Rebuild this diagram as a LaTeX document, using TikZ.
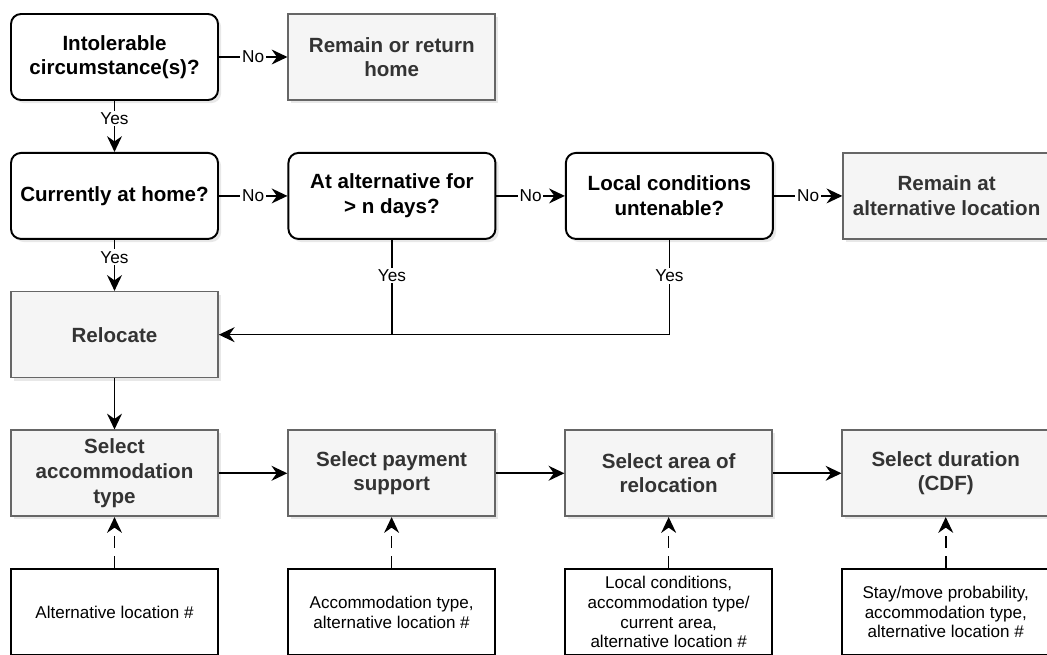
\documentclass[tikz,border=0pt]{standalone}
\usepackage{xcolor}
\usepackage{fontspec}
\setmainfont{Liberation Sans}
\usepackage{tikz}
\usetikzlibrary{positioning, arrows.meta, shadows}

\definecolor{boxgray}{HTML}{F5F5F5}
\definecolor{linegray}{HTML}{666666}
\definecolor{textgray}{HTML}{333333}

\begin{document}
\begin{tikzpicture}[
    question/.style={
        rectangle,
        rounded corners=0.2cm,
        draw,
        line width=1.1pt,
        fill=white,
        drop shadow={shadow xshift=1.8pt, shadow yshift=-1.8pt, opacity=0.18},
        minimum width=4.14cm,
        minimum height=1.72cm,
        align=center,
        font=\fontsize{11.7}{14}\selectfont\bfseries
    },
    outcome/.style={
        rectangle,
        draw=linegray,
        line width=0.9pt,
        fill=boxgray,
        text=textgray,
        drop shadow={shadow xshift=1.8pt, shadow yshift=-1.8pt, opacity=0.18},
        minimum width=4.14cm,
        minimum height=1.72cm,
        align=center,
        font=\fontsize{11.7}{14}\selectfont\bfseries
    },
    input/.style={
        rectangle,
        draw,
        line width=1.1pt,
        fill=white,
        minimum width=4.14cm,
        minimum height=1.72cm,
        align=center,
        font=\fontsize{9.7}{11.3}\selectfont
    },
    label/.style={
        fill=white,
        inner sep=1pt,
        font=\fontsize{9.8}{11}\selectfont
    },
    line/.style={
        line width=0.9pt
    },
    arrow/.style={
        line width=0.9pt,
        -{Stealth[length=9pt, width=8.5pt, inset=3pt]}
    },
    feed/.style={
        arrow,
        dash pattern=on 7pt off 4.5pt
    }
]

\useasboundingbox (0,0) rectangle (20.94,-13.08);

% decisions
\node[question] (intolerable) at (2.29,-1.14) {Intolerable\\circumstance(s)?};
\node[outcome, right=1.37cm of intolerable] (remainhome) {Remain or return\\home};
\node[question, below=1.02cm of intolerable] (athome) {Currently at home?};
\node[question, right=1.37cm of athome] (ndays) {At alternative for\\> n days?};
\node[question, right=1.37cm of ndays] (untenable) {Local conditions\\untenable?};
\node[outcome, right=1.37cm of untenable] (remainalt) {Remain at\\alternative location};
\node[outcome, below=1.02cm of athome] (relocate) {Relocate};

% selection steps
\node[outcome, below=1.02cm of relocate] (acctype) {Select\\accommodation\\type};
\node[outcome, right=1.37cm of acctype] (payment) {Select payment\\support};
\node[outcome, right=1.37cm of payment] (area) {Select area of\\relocation};
\node[outcome, right=1.37cm of area] (duration) {Select duration\\(CDF)};

% inputs
\node[input, below=1.02cm of acctype] (inacctype) {Alternative location \#};
\node[input, below=1.02cm of payment] (inpayment) {Accommodation type,\\alternative location \#};
\node[input, below=1.02cm of area] (inarea) {Local conditions,\\accommodation type/\\current area,\\alternative location \#};
\node[input, below=1.02cm of duration] (induration) {Stay/move probability,\\accommodation type,\\alternative location \#};

\draw[arrow] (intolerable) to node[label, midway]{No} (remainhome);
\draw[arrow] (intolerable) to node[label, pos=0.34]{Yes} (athome);
\draw[arrow] (athome) to node[label, midway]{No} (ndays);
\draw[arrow] (ndays) to node[label, midway]{No} (untenable);
\draw[arrow] (untenable) to node[label, midway]{No} (remainalt);
\draw[arrow] (athome) to node[label, pos=0.34]{Yes} (relocate);
\draw[arrow] (untenable.south) |- node[label, pos=0.19]{Yes} (relocate.east);
\draw[line] (ndays.south) -- node[label, pos=0.375]{Yes} (ndays.south |- relocate.east);

\draw[arrow] (relocate) to (acctype);
\draw[arrow] (acctype) to (payment);
\draw[arrow] (payment) to (area);
\draw[arrow] (area) to (duration);

\draw[feed] (inacctype) to (acctype);
\draw[feed] (inpayment) to (payment);
\draw[feed] (inarea) to (area);
\draw[feed] (induration) to (duration);

\end{tikzpicture}
\end{document}
